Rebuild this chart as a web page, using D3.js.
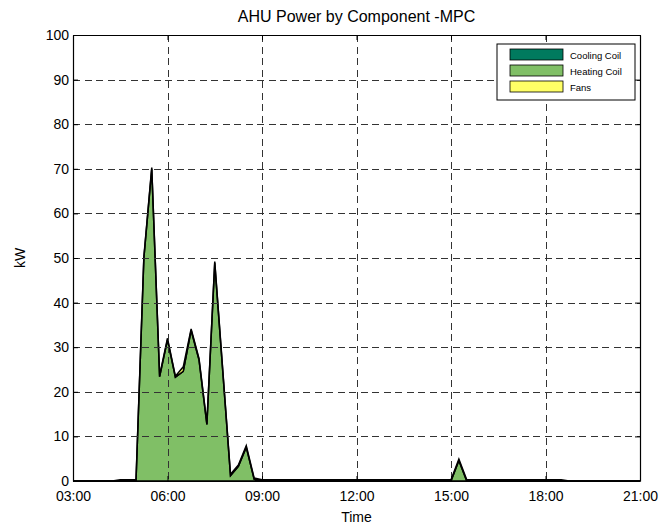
<!DOCTYPE html>
<html>
<head>
<meta charset="utf-8">
<script src="https://cdn.jsdelivr.net/npm/d3@7/dist/d3.min.js"></script>
<style>
  html, body { margin: 0; padding: 0; background: #fff; }
  svg { display: block; font-family: "Liberation Sans", Arial, Helvetica, sans-serif; }
</style>
</head>
<body>
<svg id="chart" width="660" height="526"></svg>
<script>
// Sample times (HH:MM) and AHU power per component in kW
const times = ["03:00","04:15","04:30","04:45","05:00","05:15","05:30","05:45","06:00","06:15",
               "06:30","06:45","07:00","07:15","07:30","07:45","08:00","08:15","08:30","08:45",
               "09:00","15:00","15:15","15:30","18:30","18:45","21:00"];
const coolingCoil = [0,0,0,0,0,0,0,0,0,0, 0,0,0,0,0,0,0,0,0,0, 0,0,0,0,0,0,0];
const heatingCoil = [0,0,0,0,0,50,70,23.4,31.7,23.3, 24.6,33.8,27.2,12.7,48.9,25,1.2,3.3,7.6,0.4, 0,0,4.6,0,0,0,0];
const fans        = [0,0,0.3,0.3,0.3,0.3,0.3,0.3,0.3,0.2, 1.0,0.3,0.3,0.3,0.3,0.3,0.3,0.3,0.3,0.3, 0.3,0.3,0.3,0.3,0.3,0,0];

const seriesNames = ["Cooling Coil", "Heating Coil", "Fans"];
const seriesColors = ["#007a5e", "#80bf66", "#ffff66"];
const xTickLabels = ["03:00","06:00","09:00","12:00","15:00","18:00","21:00"];
const yTickValues = [0,10,20,30,40,50,60,70,80,90,100];

const titleText = "AHU Power by Component -MPC";
const xLabel = "Time";
const yLabel = "kW";

const parseTime = d3.timeParse("%H:%M");
const rows = times.map((t, i) => ({
  t: parseTime(t),
  "Cooling Coil": coolingCoil[i],
  "Heating Coil": heatingCoil[i],
  "Fans": fans[i]
}));

const svg = d3.select("#chart");
const plot = { left: 73, right: 640, top: 35, bottom: 481 };

const x = d3.scaleTime()
  .domain([parseTime("03:00"), parseTime("21:00")])
  .range([plot.left, plot.right]);
const y = d3.scaleLinear().domain([0, 100]).range([plot.bottom, plot.top]);

const xTicks = xTickLabels.map(parseTime);

// stacked areas
const stacked = d3.stack().keys(seriesNames)(rows);
const area = d3.area()
  .x(d => x(d.data.t))
  .y0(d => y(d[0]))
  .y1(d => y(d[1]));

svg.append("g").selectAll("path.layer")
  .data(stacked)
  .join("path")
  .attr("class", "layer")
  .attr("d", area)
  .attr("fill", (d, i) => seriesColors[i])
  .attr("stroke", "#000")
  .attr("stroke-width", 1.5)
  .attr("stroke-linejoin", "miter");

// dashed grid drawn over the areas
const grid = svg.append("g")
  .attr("stroke", "#333")
  .attr("stroke-width", 1)
  .attr("stroke-dasharray", "7,4.5")
  .attr("shape-rendering", "crispEdges");
grid.selectAll("line.gx")
  .data(xTicks.slice(1, -1))
  .join("line")
  .attr("x1", d => Math.round(x(d)) + 0.5).attr("x2", d => Math.round(x(d)) + 0.5)
  .attr("y1", plot.top).attr("y2", plot.bottom);
grid.selectAll("line.gy")
  .data(yTickValues.slice(1, -1))
  .join("line")
  .attr("y1", d => Math.round(y(d)) + 0.5).attr("y2", d => Math.round(y(d)) + 0.5)
  .attr("x1", plot.left).attr("x2", plot.right);

// axes with inward ticks
const tickLen = 5;
const xAxis = svg.append("g")
  .attr("transform", `translate(0,${plot.bottom})`)
  .call(d3.axisBottom(x).tickValues(xTicks).tickFormat(d3.timeFormat("%H:%M"))
        .tickSizeInner(-tickLen).tickSizeOuter(0).tickPadding(10));
const xAxisTop = svg.append("g")
  .attr("transform", `translate(0,${plot.top})`)
  .call(d3.axisTop(x).tickValues(xTicks).tickFormat("")
        .tickSizeInner(-tickLen).tickSizeOuter(0));
const yAxis = svg.append("g")
  .attr("transform", `translate(${plot.left},0)`)
  .call(d3.axisLeft(y).tickValues(yTickValues).tickFormat(d3.format("d"))
        .tickSizeInner(-tickLen).tickSizeOuter(0).tickPadding(4));
const yAxisRight = svg.append("g")
  .attr("transform", `translate(${plot.right},0)`)
  .call(d3.axisRight(y).tickValues(yTickValues).tickFormat("")
        .tickSizeInner(-tickLen).tickSizeOuter(0));

[xAxis, xAxisTop, yAxis, yAxisRight].forEach(a => {
  a.selectAll(".domain").attr("stroke", "#000").attr("stroke-width", 1.2);
  a.selectAll(".tick line").attr("stroke", "#000");
  a.selectAll(".tick text")
    .attr("fill", "#000")
    .style("font-size", "14px")
    .style("font-family", "'Liberation Sans', Arial, sans-serif");
});

// title and axis labels
svg.append("text")
  .attr("x", (plot.left + plot.right) / 2).attr("y", 22)
  .attr("text-anchor", "middle")
  .style("font-size", "16px")
  .text(titleText);
svg.append("text")
  .attr("x", (plot.left + plot.right) / 2).attr("y", 522)
  .attr("text-anchor", "middle")
  .style("font-size", "14px")
  .text(xLabel);
svg.append("text")
  .attr("transform", `translate(25,${(plot.top + plot.bottom) / 2}) rotate(-90)`)
  .attr("text-anchor", "middle")
  .style("font-size", "14px")
  .text(yLabel);

// legend
const legend = svg.append("g").attr("transform", "translate(497,44)");
legend.append("rect")
  .attr("width", 138).attr("height", 56)
  .attr("fill", "#fff").attr("stroke", "#000").attr("stroke-width", 1);
const entry = legend.selectAll("g.entry")
  .data(seriesNames)
  .join("g")
  .attr("class", "entry")
  .attr("transform", (d, i) => `translate(13,${5 + i * 16})`);
entry.append("rect")
  .attr("width", 53).attr("height", 11)
  .attr("fill", (d, i) => seriesColors[i])
  .attr("stroke", "#000").attr("stroke-width", 0.8);
entry.append("text")
  .attr("x", 60).attr("y", 9.5)
  .style("font-size", "9.5px")
  .text(d => d);
</script>
</body>
</html>
